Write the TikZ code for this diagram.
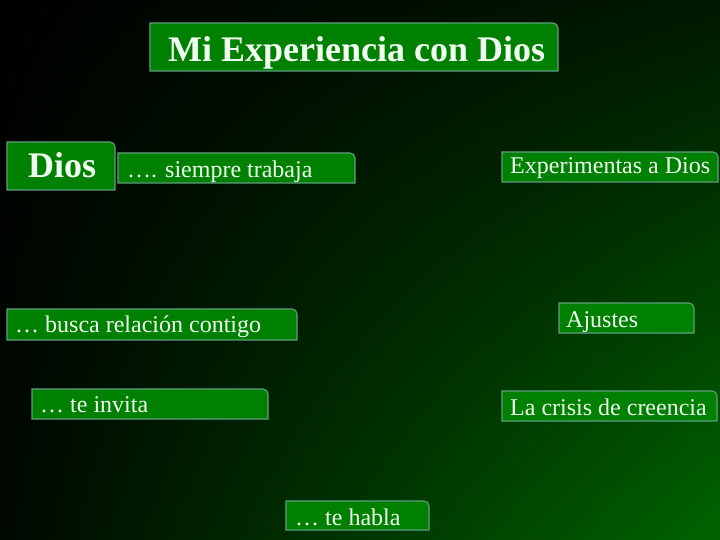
\documentclass[tikz,border=0pt]{standalone}
\usepackage{fontspec}
\setmainfont{Liberation Serif}
\usetikzlibrary{shadings}
\definecolor{boxfill}{RGB}{0,128,0}
\definecolor{boxline}{RGB}{95,160,125}
\definecolor{txt}{RGB}{240,255,240}
\definecolor{bgtr}{RGB}{0,24,0}
\definecolor{bgbl}{RGB}{0,8,0}
\definecolor{bgbr}{RGB}{0,100,0}
\newcommand{\tabbox}[4]{%
  \draw[tabsty] (#1,#4) -- (#1,#2) -- ({#3-5},#2)
    .. controls ({#3-2.2},#2) and (#3,{#2+2.2}) .. (#3,{#2+5}) -- (#3,#4) -- cycle;}
\tikzset{
  tabsty/.style={fill=boxfill, draw=boxline, line width=1.1pt},
  lbl/.style={anchor=base west, inner sep=0pt, text=txt, font=\rmfamily\fontsize{24}{28}\selectfont},
  big/.style={lbl, font=\rmfamily\bfseries\fontsize{36}{40}\selectfont}
}
\begin{document}
\begin{tikzpicture}[x=1pt,y=-1pt]
\useasboundingbox (0,0) rectangle (720,540);
\shade[upper left=black, upper right=bgtr, lower left=bgbl, lower right=bgbr] (0,0) rectangle (720,540);
% boxes
\tabbox{150}{23}{558}{71}
\tabbox{7}{142}{115}{190}
\tabbox{118}{153}{355}{183}
\tabbox{502}{152}{718}{182}
\tabbox{7}{309}{297}{340}
\tabbox{32}{389}{268}{419}
\tabbox{559}{303}{694}{333}
\tabbox{502}{391}{717}{421}
\tabbox{286}{501}{429}{530}
% texts
\node[big] (title) at (168,62) {Mi Experiencia con Dios};
\node[big] (dios) at (28,178) {Dios};
\node[lbl] (siempre) at (127,178) {…. siempre trabaja};
\node[lbl] (exper) at (510,174) {Experimentas a Dios};
\node[lbl] (busca) at (15,332) {… busca relación contigo};
\node[lbl] (invita) at (40,412) {… te invita};
\node[lbl] (ajustes) at (566,327) {Ajustes};
\node[lbl] (crisis) at (510,415) {La crisis de creencia};
\node[lbl] (habla) at (295,525) {… te habla};
\end{tikzpicture}
\end{document}
